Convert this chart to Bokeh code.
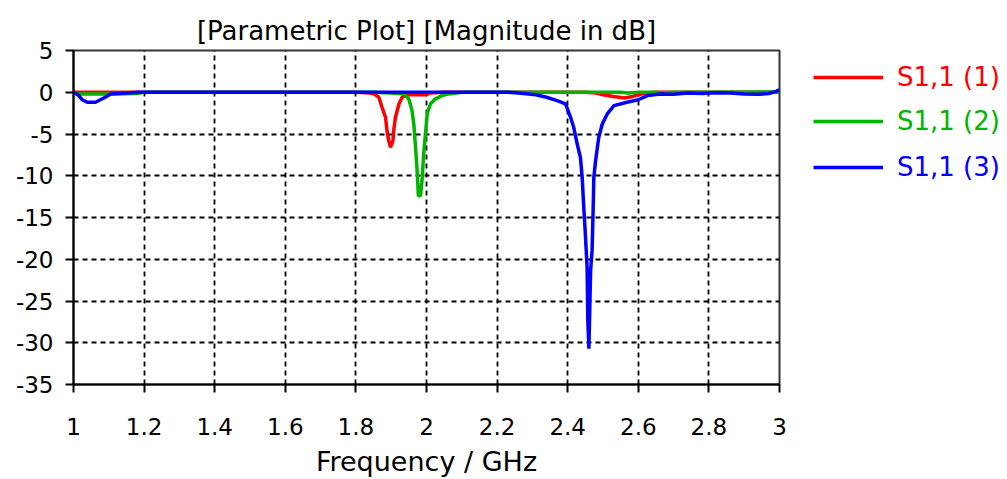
from bokeh.plotting import figure
from bokeh.layouts import row
from bokeh.models import Legend, LegendItem, FixedTicker, Range1d
from bokeh.embed import file_html
from bokeh.resources import INLINE

FONT = "DejaVu Sans"

# ---- data ----
freq_1 = [1.00, 1.80, 1.84, 1.851, 1.865, 1.874, 1.884, 1.888, 1.893, 1.898,
          1.905, 1.907, 1.912, 1.922, 1.931, 1.945, 1.997, 2.01, 2.05, 2.45,
          2.48, 2.50, 2.53, 2.56, 2.58, 2.60, 2.62, 2.65, 3.00]
s11_1 = [0.0, 0.0, -0.1, -0.2, -0.6, -1.8, -3.0, -4.6, -5.8, -6.6,
         -5.8, -4.6, -3.0, -1.4, -0.6, -0.3, -0.3, -0.1, 0.0, 0.0,
         -0.1, -0.3, -0.5, -0.7, -0.55, -0.3, -0.1, 0.0, 0.0]

freq_2 = [1.00, 1.01, 1.10, 1.18, 1.20, 1.85, 1.90, 1.92, 1.936, 1.95,
          1.959, 1.964, 1.969, 1.974, 1.977, 1.983, 1.988, 1.992, 1.997, 2.002,
          2.011, 2.025, 2.044, 2.063, 2.10, 2.55, 2.57, 2.60, 2.65, 2.67,
          2.70, 3.00]
s11_2 = [0.0, -0.2, -0.2, -0.15, 0.0, 0.0, -0.1, -0.15, -0.2, -0.8,
         -2.2, -3.8, -6.6, -9.8, -12.4, -12.4, -10.2, -7.4, -5.0, -2.6,
         -1.4, -0.8, -0.4, -0.2, 0.0, 0.0, -0.1, 0.0, 0.0, -0.1,
         0.0, 0.05]

freq_3 = [1.00, 1.015, 1.025, 1.039, 1.062, 1.076, 1.09, 1.105, 1.152, 1.185,
          2.23, 2.26, 2.31, 2.34, 2.37, 2.394, 2.408, 2.417, 2.427, 2.436,
          2.441, 2.445, 2.450, 2.455, 2.457, 2.460, 2.463, 2.465, 2.469, 2.472,
          2.474, 2.477, 2.479, 2.488, 2.498, 2.512, 2.531, 2.568, 2.60, 2.626,
          2.663, 2.70, 2.74, 2.78, 2.82, 2.86, 2.90, 2.94, 2.97, 2.99, 3.00]
s11_3 = [0.0, -0.4, -0.9, -1.2, -1.2, -0.9, -0.6, -0.2, -0.1, 0.0,
         0.0, -0.1, -0.3, -0.6, -1.0, -1.4, -3.0, -4.2, -6.2, -7.8,
         -10.2, -13.4, -17.0, -21.0, -27.3, -30.7, -25.0, -21.3, -19.0, -14.2,
         -10.2, -9.0, -8.2, -5.4, -3.8, -2.6, -1.6, -1.2, -0.9, -0.4,
         -0.2, -0.25, -0.1, -0.15, -0.05, -0.1, -0.2, -0.25, -0.15, 0.1, 0.3]

series_labels = ["S1,1 (1)", "S1,1 (2)", "S1,1 (3)"]
series_colors = ["#ff0000", "#00b400", "#0000ff"]

x_ticks = [1, 1.2, 1.4, 1.6, 1.8, 2, 2.2, 2.4, 2.6, 2.8, 3]
x_tick_labels = ["1", "1.2", "1.4", "1.6", "1.8", "2", "2.2", "2.4", "2.6", "2.8", "3"]
y_ticks = [5, 0, -5, -10, -15, -20, -25, -30, -35]
y_tick_labels = ["5", "0", "-5", "-10", "-15", "-20", "-25", "-30", "-35"]

title_text = "[Parametric Plot] [Magnitude in dB]"
x_label_text = "Frequency / GHz"
series_data = [(freq_1, s11_1), (freq_2, s11_2), (freq_3, s11_3)]

H = 479
TOP, BOTTOM = 50, H - 384

# ---- main figure ----
p = figure(width=800, height=H, x_range=Range1d(1, 3), y_range=Range1d(-35, 5),
           output_backend="svg", toolbar_location=None,
           min_border_left=73, min_border_right=21,
           min_border_top=TOP, min_border_bottom=BOTTOM)
p.background_fill_color = "white"
p.border_fill_color = "white"
p.outline_line_color = "#333333"
p.outline_line_width = 2

p.title.text = title_text
p.title.align = "center"
p.title.text_font = FONT
p.title.text_font_size = "26px"
p.title.text_font_style = "normal"
p.title.text_color = "black"
p.title.standoff = 10

for ax in (p.xaxis[0], p.yaxis[0]):
    ax.axis_line_color = "black"
    ax.axis_line_width = 2
    ax.major_tick_line_color = "black"
    ax.major_tick_line_width = 2
    ax.major_tick_out = 8
    ax.major_tick_in = 0
    ax.minor_tick_line_color = None
    ax.major_label_text_font = FONT
    ax.major_label_text_font_size = "23px"
    ax.major_label_text_color = "black"

p.xaxis.ticker = FixedTicker(ticks=x_ticks)
p.yaxis.ticker = FixedTicker(ticks=y_ticks)
p.xaxis.major_label_overrides = dict(zip(x_ticks, x_tick_labels))
p.yaxis.major_label_overrides = dict(zip(y_ticks, y_tick_labels))
p.xaxis.major_label_standoff = 25
p.yaxis.major_label_standoff = 12
p.xaxis.axis_label = x_label_text
p.xaxis.axis_label_text_font = FONT
p.xaxis.axis_label_text_font_size = "27px"
p.xaxis.axis_label_text_font_style = "normal"
p.xaxis.axis_label_text_color = "black"
p.xaxis.axis_label_standoff = 8

for g in (p.xgrid[0], p.ygrid[0]):
    g.grid_line_color = "black"
    g.grid_line_width = 1.8
    g.grid_line_dash = "5 4"

for (fx, fy), c in zip(series_data, series_colors):
    p.line(fx, fy, line_color=c, line_width=3.5)

# ---- legend panel (frame aligned with the main plot's frame) ----
q = figure(width=200, height=H, x_range=Range1d(100, 101), y_range=Range1d(100, 101),
           output_backend="svg", toolbar_location=None,
           min_border_left=0, min_border_right=0, min_border_top=TOP, min_border_bottom=BOTTOM)
q.axis.visible = False
q.grid.visible = False
q.outline_line_color = None
q.background_fill_color = "white"
q.border_fill_color = "white"

legend_centers = [77, 121, 167]  # px from top of the page
for (fx, fy), lab, col, cy in zip(series_data, series_labels, series_colors, legend_centers):
    r = q.line(fx, fy, line_color=col, line_width=3.5)  # out of view; only its legend swatch shows
    leg = Legend(items=[LegendItem(label=lab, renderers=[r])], location=(13, 384 - cy - 15),
                 padding=0, margin=0, spacing=0,
                 border_line_color=None, background_fill_alpha=0,
                 glyph_width=70, glyph_height=30, label_height=30,
                 label_standoff=14, label_text_color=col,
                 label_text_font=FONT, label_text_font_size="26px")
    q.add_layout(leg, "center")

layout = row(p, q)
open("out.html", "w").write(file_html(layout, INLINE))
